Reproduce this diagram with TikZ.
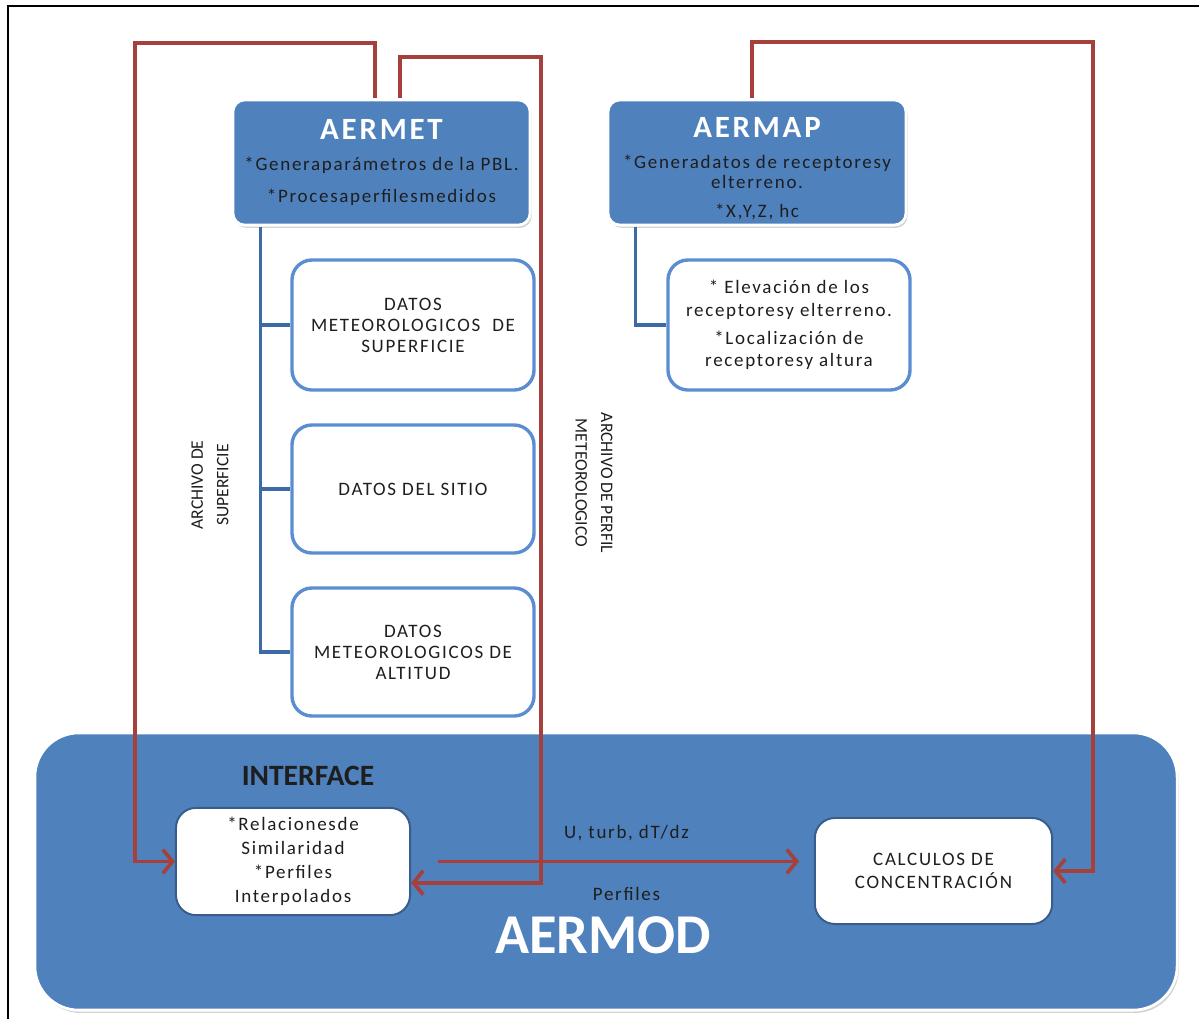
\documentclass[tikz,border=0pt]{standalone}
\usepackage{fontspec}
\setmainfont{Carlito}
\newfontfamily\widefont[LetterSpace=9]{Carlito}
\usetikzlibrary{arrows.meta,shadows,positioning,calc}
\definecolor{aerblue}{HTML}{4F81BD}
\definecolor{aerline}{HTML}{3C6AA6}
\definecolor{aerbox}{HTML}{5B8DD3}
\definecolor{aerred}{HTML}{A5403C}
\definecolor{aerdark}{HTML}{385D8A}
\definecolor{aertext}{HTML}{1E1E1E}

\begin{document}
\begin{tikzpicture}[
            x=0.025cm,y=-0.025cm,
            bluebox/.style={rectangle,rounded corners=0.3cm,fill=aerblue,draw=white,line width=2pt,
              drop shadow={shadow xshift=0.04cm,shadow yshift=-0.07cm,opacity=0.35},
              align=center,text=aertext,inner sep=0pt},
            datbox/.style={rectangle,rounded corners=0.5cm,fill=white,draw=aerbox,line width=2.4pt,
              minimum width=6.05cm,align=center,text=aertext,font=\widefont\fontsize{13.5}{15}\selectfont},
            modbox/.style={rectangle,rounded corners=0.5cm,fill=white,draw=aerdark,line width=1.4pt,
              align=center,text=aertext,font=\widefont\fontsize{13.5}{17}\selectfont},
            tree/.style={draw=aerline,line width=2.6pt},
            flow/.style={draw=aerred,line width=2.6pt,-{Straight Barb[length=7pt,width=17pt]}},
            note/.style={text=aertext,align=center,font=\widefont\fontsize{13.5}{15}\selectfont},
            side/.style={text=aertext,align=center,font=\fontsize{12.5}{18}\selectfont}
          ]
          \useasboundingbox (0,0) rectangle (1199,1019);
          \draw[line width=1.5pt] (8,1019) -- (8,6) -- (1199,6);

          % modulos superiores
          \node[bluebox,minimum width=7.43cm,minimum height=3.13cm,font=\widefont\fontsize{13.5}{16}\selectfont] (aermet) at (381.5,162.5)
            {{\color{white}\fontsize{22}{26}\selectfont\bfseries AERMET}\\[6pt]
             *Generaparámetros de la PBL.\\[7pt] *Procesaperfilesmedidos};
          \node[bluebox,minimum width=7.45cm,minimum height=3.13cm,font=\widefont\fontsize{13.5}{14}\selectfont] (aermap) at (757,162.5)
            {\rule{0pt}{23pt}{\color{white}\fontsize{22}{26}\selectfont\bfseries AERMAP}\\[8pt]
             *Generadatos de receptoresy\\ elterreno.\\[7pt] *X,Y,Z, hc};

          \node[datbox,minimum height=3.25cm] (sup) at (413,325) {DATOS\\ METEOROLOGICOS\ \ DE\\ SUPERFICIE};
          \node[datbox,minimum height=3.2cm] (sitio) at (413,489) {DATOS DEL SITIO};
          \node[datbox,minimum height=3.2cm] (alt) at (413,652) {DATOS\\ METEOROLOGICOS DE\\ ALTITUD};
          \node[datbox,minimum height=3.25cm,font=\widefont\fontsize{13.5}{16}\selectfont] (elev) at (789,325)
            {* Elevación de los\\ receptoresy elterreno.\\[4pt] *Localización de\\ receptoresy altura};

          \draw[tree] ([xshift=0.725cm]aermet.south west) |- (sup.west);
          \draw[tree] ([xshift=0.725cm]aermet.south west) |- (sitio.west);
          \draw[tree] ([xshift=0.725cm]aermet.south west) |- (alt.west);
          \draw[tree] ([xshift=0.725cm]aermap.south west) |- (elev.west);

          \node[side,rotate=90] (archsup) at (210,485) {ARCHIVO DE\\ SUPERFICIE};
          \node[side,rotate=-90] (archper) at (594,483) {ARCHIVO DE PERFIL\\ METEOROLOGICO};

          % AERMOD
          \node[bluebox,minimum width=28.55cm,minimum height=6.93cm,rounded corners=1.1cm] (aermod) at (606,871.5) {};
          \node[text=aertext,font=\fontsize{21}{24}\selectfont\bfseries] (interface) at (308,776) {INTERFACE};
          \node[text=white,font=\fontsize{40}{44}\selectfont\bfseries] (aermodlbl) at (603,935) {AERMOD};
          \node[modbox,minimum width=5.85cm,minimum height=2.68cm] (rel) at (293,861.5)
            {*Relacionesde\\ Similaridad\\ *Perfiles\\ Interpolados};
          \node[modbox,minimum width=5.93cm,minimum height=2.65cm,font=\widefont\fontsize{13.5}{16}\selectfont] (calc) at (933.5,871)
            {CALCULOS DE\\ CONCENTRACIÓN};

          \coordinate (k1) at (135,43);
          \coordinate (k2) at (541,57);
          \coordinate (k3) at (1093,42);
          \draw[flow] ([xshift=-0.16cm]aermet.north) |- (k1) |- (rel.west);
          \draw[flow] ([xshift=0.46cm]aermet.north) |- (k2) |- ([yshift=-0.53cm]rel.east);
          \draw[flow] ([xshift=-0.125cm]aermap.north) |- (k3) |- (calc.east);
          \draw[flow,shorten <=0.68cm,shorten >=0.37cm] (rel.east) -- (rel.east -| calc.west)
            node[note,midway,above=0.36cm,xshift=0.35cm] {U, turb, dT/dz}
            node[note,midway,below=0.48cm,xshift=0.35cm] {Perfiles};
        \end{tikzpicture}
\end{document}
